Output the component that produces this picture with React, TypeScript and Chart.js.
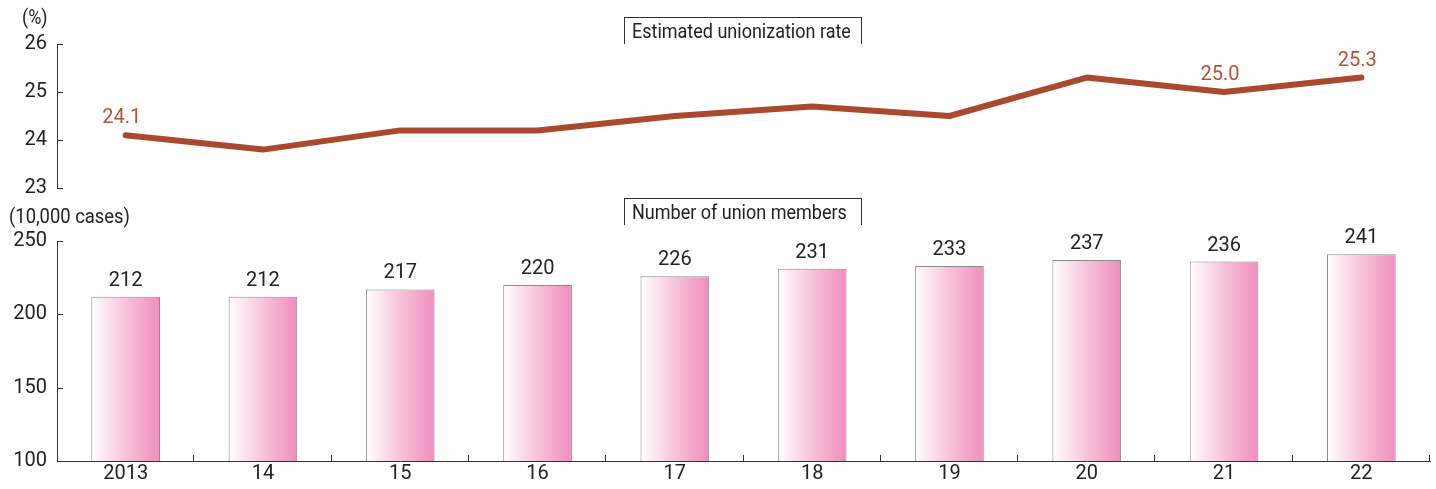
import React, { useEffect, useRef } from "react";
import { Chart, registerables } from "chart.js";

Chart.register(...registerables);

const categories = ["2013", "14", "15", "16", "17", "18", "19", "20", "21", "22"];
const unionizationRate = [24.1, 23.8, 24.2, 24.2, 24.5, 24.7, 24.5, 25.3, 25.0, 25.3];
const rateLabelIndexes = [0, 8, 9];
const unionMembers = [212, 212, 217, 220, 226, 231, 233, 237, 236, 241];

const FONT = "Roboto, 'Liberation Sans', sans-serif";
const LINE_COLOR = "#a94a2e";
const AXIS_COLOR = "#333333";

const innerTicksPlugin = {
  id: "innerTicks",
  afterDraw(chart: any, _args: any, opts: any) {
    const ctx = chart.ctx;
    const y = chart.scales.y;
    const x = chart.scales.x;
    const area = chart.chartArea;
    ctx.save();
    ctx.strokeStyle = AXIS_COLOR;
    ctx.lineWidth = 1;
    ctx.beginPath();
    y.ticks.forEach((t: any) => {
      const py = Math.round(y.getPixelForValue(t.value)) + 0.5;
      ctx.moveTo(area.left, py);
      ctx.lineTo(area.left + 6, py);
    });
    if (opts && opts.xTicks) {
      const n = x.ticks.length;
      const half = (x.getPixelForTick(1) - x.getPixelForTick(0)) / 2;
      for (let i = 0; i < n; i++) {
        const px = Math.round(x.getPixelForTick(i) + half) - 0.5;
        ctx.moveTo(px, area.bottom);
        ctx.lineTo(px, area.bottom - 6);
      }
    }
    ctx.stroke();
    ctx.restore();
  },
};

const labelsPlugin = {
  id: "valueLabels",
  afterDatasetsDraw(chart: any, _args: any, opts: any) {
    const ctx = chart.ctx;
    const meta = chart.getDatasetMeta(0);
    const data = chart.data.datasets[0].data;
    ctx.save();
    ctx.font = `20px ${FONT}`;
    ctx.textAlign = "center";
    ctx.textBaseline = "bottom";
    ctx.fillStyle = opts.color;
    meta.data.forEach((el: any, i: number) => {
      if (opts.only && !opts.only.includes(i)) return;
      const v = data[i];
      const txt = opts.decimals ? v.toFixed(opts.decimals) : String(v);
      ctx.fillText(txt, el.x - (opts.dx || 0), el.y - opts.gap);
    });
    ctx.restore();
  },
};

export default function App() {
  const topRef = useRef<HTMLCanvasElement>(null);
  const botRef = useRef<HTMLCanvasElement>(null);

  useEffect(() => {
    const tickFont = { family: FONT, size: 20 };
    const top = new Chart(topRef.current!, {
      type: "line",
      data: {
        labels: categories,
        datasets: [
          {
            data: unionizationRate,
            borderColor: LINE_COLOR,
            borderWidth: 6,
            borderCapStyle: "round",
            borderJoinStyle: "round",
            pointRadius: 0,
            tension: 0,
          },
        ],
      },
      options: {
        animation: false,
        responsive: false,
        events: [],
        layout: { padding: { left: 0, right: 6, top: 44, bottom: 24 } },
        plugins: {
          legend: { display: false },
          tooltip: { enabled: false },
          valueLabels: { color: "#b3523a", decimals: 1, only: rateLabelIndexes, gap: 7, dx: 4 },
          innerTicks: { xTicks: false },
        } as any,
        scales: {
          x: { type: "category", offset: true, display: false },
          y: {
            min: 23,
            max: 26,
            ticks: { stepSize: 1, color: "#222", font: tickFont, padding: 10 },
            grid: { display: false, drawTicks: false },
            border: { display: true, color: AXIS_COLOR, width: 1 },
            afterFit(axis: any) {
              axis.width = 57;
            },
          },
        },
      },
      plugins: [innerTicksPlugin, labelsPlugin],
    });

    const bot = new Chart(botRef.current!, {
      type: "bar",
      data: {
        labels: categories,
        datasets: [
          {
            data: unionMembers,
            backgroundColor: (c: any) => {
              const chart = c.chart;
              const meta = chart.getDatasetMeta(0);
              const el = meta && meta.data ? meta.data[c.dataIndex] : null;
              if (!el || !Number.isFinite(el.x) || !chart.chartArea) return "#f5b8d3";
              const w = Number.isFinite(el.width) && el.width > 0 ? el.width : 69;
              const g = chart.ctx.createLinearGradient(el.x - w / 2, 0, el.x + w / 2, 0);
              g.addColorStop(0, "#ffffff");
              g.addColorStop(0.5, "#f7c3da");
              g.addColorStop(1, "#f08dbd");
              return g;
            },
            borderColor: "#8a8a8a",
            borderWidth: 1,
            borderSkipped: "bottom",
            barPercentage: 0.5,
            categoryPercentage: 1,
          },
        ],
      },
      options: {
        animation: false,
        responsive: false,
        events: [],
        layout: { padding: { left: 0, right: 6, top: 29, bottom: 0 } },
        plugins: {
          legend: { display: false },
          tooltip: { enabled: false },
          valueLabels: { color: "#222", gap: 6 },
          innerTicks: { xTicks: true },
        } as any,
        scales: {
          x: {
            type: "category",
            ticks: { color: "#222", font: tickFont, padding: 1 },
            grid: { display: false, drawTicks: false },
            border: { display: true, color: AXIS_COLOR, width: 1 },
            afterFit(axis: any) {
              axis.height = 28;
            },
          },
          y: {
            min: 100,
            max: 250,
            ticks: { stepSize: 50, color: "#222", font: tickFont, padding: 10 },
            grid: { display: false, drawTicks: false },
            border: { display: true, color: AXIS_COLOR, width: 1 },
            afterFit(axis: any) {
              axis.width = 57;
            },
          },
        },
      },
      plugins: [innerTicksPlugin, labelsPlugin],
    });
    bot.update();

    return () => {
      top.destroy();
      bot.destroy();
    };
  }, []);

  const boxStyle: React.CSSProperties = {
    position: "absolute",
    borderTop: "1px solid #333",
    borderLeft: "1px solid #333",
    borderRight: "1px solid #333",
    fontFamily: FONT,
    fontSize: 20,
    color: "#222",
    padding: "2px 0 0 7px",
    lineHeight: "23px",
    whiteSpace: "nowrap",
    boxSizing: "border-box",
  };
  const squeeze: React.CSSProperties = {
    display: "inline-block",
    transform: "scaleX(0.9)",
    transformOrigin: "left center",
  };
  const unitStyle: React.CSSProperties = {
    position: "absolute",
    fontFamily: FONT,
    fontSize: 20,
    color: "#222",
    lineHeight: "20px",
    whiteSpace: "nowrap",
  };

  return (
    <div style={{ position: "fixed", left: 0, top: 0, width: 1436, height: 489, background: "#fff" }}>
      <canvas ref={topRef} width={1436} height={212} style={{ position: "absolute", left: 0, top: 0 }} />
      <canvas ref={botRef} width={1436} height={277} style={{ position: "absolute", left: 0, top: 212 }} />
      <div style={{ ...unitStyle, left: 22, top: 7 }}>
        <span style={squeeze}>(%)</span>
      </div>
      <div style={{ ...unitStyle, left: 9, top: 206 }}>
        <span style={{ ...squeeze, transform: "scaleX(0.92)" }}>(10,000 cases)</span>
      </div>
      <div style={{ ...boxStyle, left: 624, top: 17, width: 238, height: 27 }}>
        <span style={squeeze}>Estimated unionization rate</span>
      </div>
      <div style={{ ...boxStyle, left: 624, top: 198, width: 238, height: 27 }}>
        <span style={squeeze}>Number of union members</span>
      </div>
    </div>
  );
}
